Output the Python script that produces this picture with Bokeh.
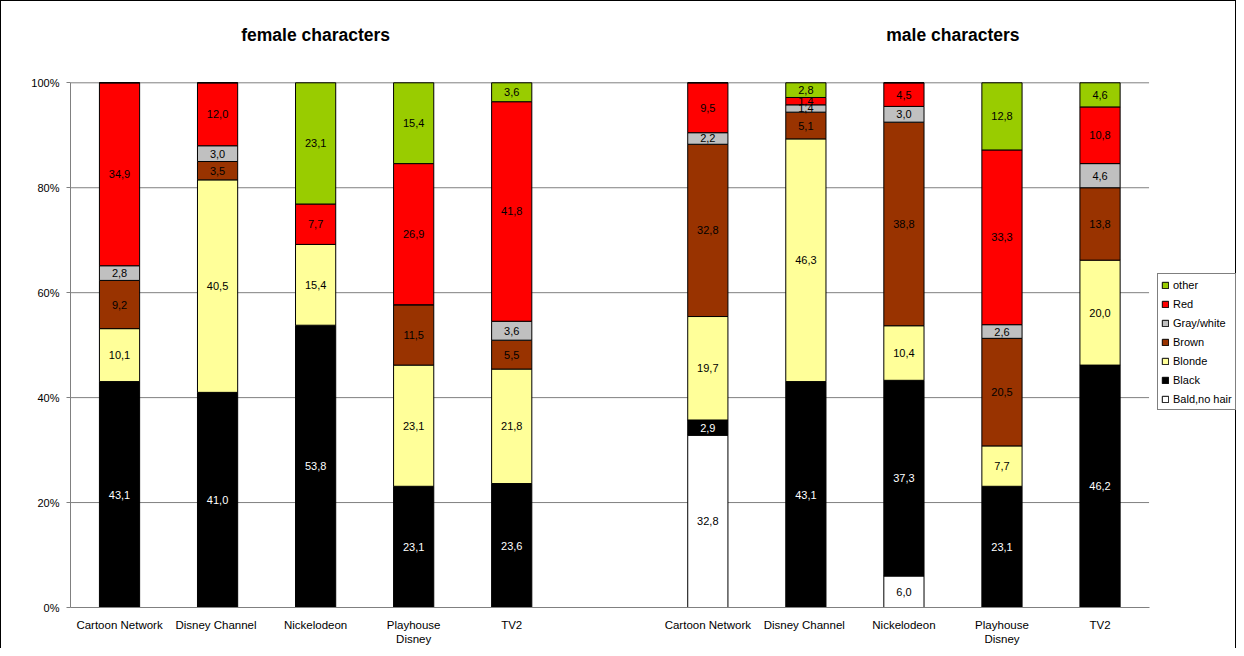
from bokeh.plotting import figure
from bokeh.models import (ColumnDataSource, Range1d, FixedTicker, Legend, LegendItem,
                          Label, PrintfTickFormatter)
from bokeh.embed import file_html
from bokeh.resources import INLINE
from bokeh.core.properties import value

# ---------------- data ----------------
channels = ["Cartoon Network", "Disney Channel", "Nickelodeon", "Playhouse Disney", "TV2"]
channel_labels = ["Cartoon Network", "Disney  Channel", "Nickelodeon", "Playhouse\nDisney", "TV2"]
groups = ["female characters", "male characters"]
hair = ["Bald,no hair", "Black", "Blonde", "Brown", "Gray/white", "Red", "other"]
hair_colors = ["#FFFFFF", "#000000", "#FFFF99", "#993300", "#C0C0C0", "#FF0000", "#99CC00"]
y_ticks = [0, 20, 40, 60, 80, 100]

female_bald = [0, 0, 0, 0, 0]
female_black = [43.1, 41.0, 53.8, 23.1, 23.6]
female_blonde = [10.1, 40.5, 15.4, 23.1, 21.8]
female_brown = [9.2, 3.5, 0, 11.5, 5.5]
female_gray = [2.8, 3.0, 0, 0, 3.6]
female_red = [34.9, 12.0, 7.7, 26.9, 41.8]
female_other = [0, 0, 23.1, 15.4, 3.6]

male_bald = [32.8, 0, 6.0, 0, 0]
male_black = [2.9, 43.1, 37.3, 23.1, 46.2]
male_blonde = [19.7, 46.3, 10.4, 7.7, 20.0]
male_brown = [32.8, 5.1, 38.8, 20.5, 13.8]
male_gray = [2.2, 1.4, 3.0, 2.6, 4.6]
male_red = [9.5, 1.4, 4.5, 33.3, 10.8]
male_other = [0, 2.8, 0, 12.8, 4.6]

female = [female_bald, female_black, female_blonde, female_brown, female_gray, female_red, female_other]
male = [male_bald, male_black, male_blonde, male_brown, male_gray, male_red, male_other]

# ---------------- build sources ----------------
n = len(channels)
gap = 1
n_slots = 2 * n + gap
xs = [i + 0.5 for i in range(n)] + [n + gap + i + 0.5 for i in range(n)]
raw = [[series[i] for i in range(n)] + [mseries[i] for i in range(n)]
       for series, mseries in zip(female, male)]
totals = [sum(raw[k][j] for k in range(len(hair))) for j in range(2 * n)]
keys = ["h%d" % k for k in range(len(hair))]
data = {"x": xs}
for k, key in enumerate(keys):
    data[key] = [raw[k][j] / totals[j] * 100 for j in range(2 * n)]
src = ColumnDataSource(data)

lx, ly, lt, lc = [], [], [], []
for j in range(2 * n):
    cum = 0.0
    for k in range(len(hair)):
        v = data[keys[k]][j]
        if raw[k][j] > 0:
            lx.append(xs[j])
            ly.append(cum + v / 2)
            lt.append(("%.1f" % raw[k][j]).replace(".", ","))
            lc.append("white" if hair[k] == "Black" else "black")
        cum += v
lsrc = ColumnDataSource(dict(x=lx, y=ly, t=lt, c=lc))

# ---------------- layout geometry (canvas px) ----------------
W, H = 1236, 648
LEFT = 69          # y axis position
ZERO_PX = 606      # canvas y of 0%
TOP_PX = 81.3      # canvas y of 100%
SLOT_PX = 98.05    # width of one category slot
px_per_unit = (ZERO_PX - TOP_PX) / 100.0
y_end = ZERO_PX / px_per_unit
x_end = (W - LEFT) / SLOT_PX

p = figure(width=W, height=H, output_backend="svg", toolbar_location=None,
           x_range=Range1d(0, x_end), y_range=Range1d(0, y_end),
           min_border_left=LEFT, min_border_right=0, min_border_top=0,
           min_border_bottom=H - ZERO_PX,
           background_fill_color="white", border_fill_color="white")
p.outline_line_color = None
p.styles = {"border-left": "1px solid black", "border-top": "1px solid black",
            "border-right": "1px solid black"}

# gridlines (limited to the category area)
grid_y = y_ticks[1:]
p.segment(x0=[0] * len(grid_y), x1=[n_slots] * len(grid_y), y0=grid_y, y1=grid_y,
          line_color="#808080", line_width=1)

rs = p.vbar_stack(keys, x="x", width=0.41, fill_color=hair_colors, line_color="black",
                  line_width=1, source=src)

p.text(x="x", y="y", text="t", text_color="c", text_align="center", text_baseline="middle",
       text_font=value("Liberation Sans"), text_font_size="11px", source=lsrc)

# axes
p.xgrid.visible = False
p.ygrid.visible = False

p.yaxis.ticker = FixedTicker(ticks=y_ticks)
p.yaxis.formatter = PrintfTickFormatter(format="%d%%")
p.yaxis.bounds = (0, 100)
p.yaxis.axis_line_color = "#808080"
p.yaxis.major_tick_line_color = "#808080"
p.yaxis.major_tick_out = 4
p.yaxis.major_tick_in = 0
p.yaxis.minor_tick_line_color = None
p.yaxis.major_label_standoff = 7
p.yaxis.major_label_text_font = "Liberation Sans"
p.yaxis.major_label_text_font_size = "11px"
p.yaxis.major_label_text_color = "black"

p.xaxis.ticker = FixedTicker(ticks=xs)
p.xaxis.major_label_overrides = {xs[j]: channel_labels[j % n] for j in range(2 * n)}
p.xaxis.bounds = (0, n_slots)
p.xaxis.axis_line_color = "#808080"
p.xaxis.major_tick_line_color = None
p.xaxis.major_tick_out = 0
p.xaxis.major_tick_in = 0
p.xaxis.minor_tick_line_color = None
p.xaxis.major_label_standoff = 11
p.xaxis.major_label_text_font = "Liberation Sans"
p.xaxis.major_label_text_font_size = "11.5px"
p.xaxis.major_label_text_color = "black"

# titles
title_x = [n / 2, n + gap + n / 2 + 0.5]
title_y = (ZERO_PX - 33) / px_per_unit
for gx, g in zip(title_x, groups):
    p.add_layout(Label(x=gx, y=title_y, text=g, text_align="center", text_baseline="middle",
                       text_font="Liberation Sans", text_font_style="bold",
                       text_font_size="17.5px", text_color="black"))

# legend
items = [LegendItem(label=hair[k], renderers=[rs[k]]) for k in reversed(range(len(hair)))]
legend = Legend(items=items, location=(1156 - LEFT, ZERO_PX - 409), margin=0, padding=3,
                glyph_width=8, glyph_height=8, label_standoff=4, label_height=15, spacing=4,
                label_text_font="Liberation Sans", label_text_font_size="11px",
                label_text_color="black",
                border_line_color="black", border_line_width=1,
                background_fill_color="white", background_fill_alpha=1)
p.add_layout(legend, "center")

open("out.html", "w").write(file_html(p, INLINE))
